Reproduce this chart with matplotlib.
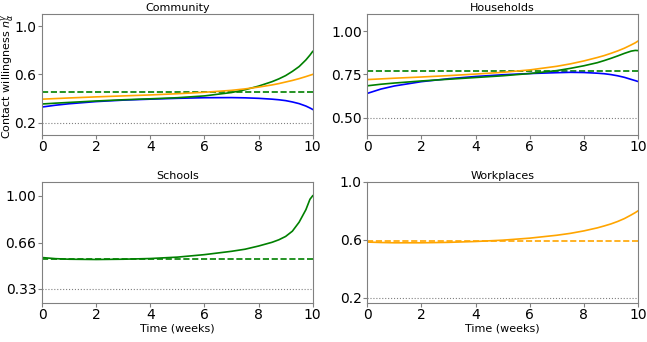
import numpy as np
import matplotlib
matplotlib.use("Agg")
import matplotlib.pyplot as plt

# time grid (weeks)
weeks = [0, 0.5, 1, 2, 3, 4, 5, 6, 7, 7.5, 8, 8.5, 8.75, 9, 9.25, 9.5, 9.75, 9.9, 10]

# Community
comm_blue = [0.330, 0.345, 0.357, 0.375, 0.387, 0.395, 0.402, 0.407, 0.408, 0.406,
             0.402, 0.395, 0.390, 0.383, 0.372, 0.358, 0.338, 0.322, 0.310]
comm_green = [0.355, 0.362, 0.368, 0.380, 0.390, 0.398, 0.407, 0.422, 0.450, 0.473,
              0.503, 0.540, 0.563, 0.590, 0.625, 0.665, 0.720, 0.760, 0.790]
comm_orange = [0.395, 0.400, 0.405, 0.414, 0.422, 0.430, 0.440, 0.452, 0.468, 0.480,
               0.495, 0.513, 0.524, 0.537, 0.550, 0.565, 0.582, 0.593, 0.600]

# Households
hh_blue = [0.640, 0.665, 0.683, 0.708, 0.725, 0.738, 0.748, 0.755, 0.760, 0.762,
           0.761, 0.757, 0.754, 0.749, 0.742, 0.733, 0.721, 0.714, 0.709]
hh_green = [0.684, 0.693, 0.700, 0.712, 0.722, 0.732, 0.742, 0.755, 0.772, 0.785,
            0.800, 0.818, 0.830, 0.843, 0.857, 0.872, 0.885, 0.889, 0.888]
hh_orange = [0.720, 0.724, 0.728, 0.735, 0.743, 0.752, 0.762, 0.776, 0.797, 0.811,
             0.828, 0.848, 0.859, 0.872, 0.886, 0.902, 0.921, 0.933, 0.943]

# Schools
sch_green = [0.555, 0.547, 0.543, 0.541, 0.543, 0.548, 0.558, 0.576, 0.600, 0.615,
             0.638, 0.665, 0.683, 0.707, 0.745, 0.810, 0.900, 0.975, 1.000]

# Workplaces
wp_orange = [0.585, 0.582, 0.580, 0.580, 0.583, 0.589, 0.598, 0.612, 0.632, 0.645,
             0.662, 0.683, 0.696, 0.710, 0.727, 0.747, 0.772, 0.788, 0.800]

# reference levels (dashed) and lower bounds (dotted)
comm_ref, comm_min = 0.453, 0.2
hh_ref, hh_min = 0.772, 0.5
sch_ref, sch_min = 0.545, 0.33
wp_ref, wp_min = 0.59, 0.2

fig, axes = plt.subplots(2, 2, figsize=(6.47, 3.42), dpi=100)
plt.subplots_adjust(left=0.065, right=0.986, top=0.959, bottom=0.115,
                    wspace=0.202, hspace=0.39)

panels = [
    (axes[0, 0], "Community", [(comm_blue, "blue"), (comm_green, "green"), (comm_orange, "orange")],
     comm_ref, "green", comm_min, (0.1, 1.1), [0.2, 0.6, 1.0], ["0.2", "0.6", "1.0"]),
    (axes[0, 1], "Households", [(hh_blue, "blue"), (hh_green, "green"), (hh_orange, "orange")],
     hh_ref, "green", hh_min, (0.4, 1.1), [0.5, 0.75, 1.0], ["0.50", "0.75", "1.00"]),
    (axes[1, 0], "Schools", [(sch_green, "green")],
     sch_ref, "green", sch_min, (0.23, 1.1), [0.33, 0.66, 1.0], ["0.33", "0.66", "1.00"]),
    (axes[1, 1], "Workplaces", [(wp_orange, "orange")],
     wp_ref, "orange", wp_min, (0.167, 1.0), [0.2, 0.6, 1.0], ["0.2", "0.6", "1.0"]),
]

for ax, title, series, ref, refcol, lo, ylim, yt, ytl in panels:
    ax.axhline(lo, color="gray", linestyle=":", linewidth=0.8)
    ax.axhline(ref, color=refcol, linestyle="--", linewidth=1.2)
    for vals, col in series:
        ax.plot(weeks, vals, color=col, linewidth=1.2)
    ax.set_title(title, fontsize=8, pad=2)
    ax.set_xlim(0, 10)
    ax.set_ylim(*ylim)
    ax.set_xticks([0, 2, 4, 6, 8, 10])
    ax.set_yticks(yt)
    ax.set_yticklabels(ytl)
    ax.tick_params(labelsize=10, length=3, color="gray", pad=1)
    for sp in ax.spines.values():
        sp.set_color("gray")

axes[0, 0].set_ylabel(r"Contact willingness $n_\alpha^\gamma$", fontsize=8)
axes[0, 0].yaxis.set_label_coords(-0.098, 0.485)
axes[1, 0].set_xlabel("Time (weeks)", fontsize=8, labelpad=1)
axes[1, 1].set_xlabel("Time (weeks)", fontsize=8, labelpad=1)

fig.savefig("out.png", dpi=100)
